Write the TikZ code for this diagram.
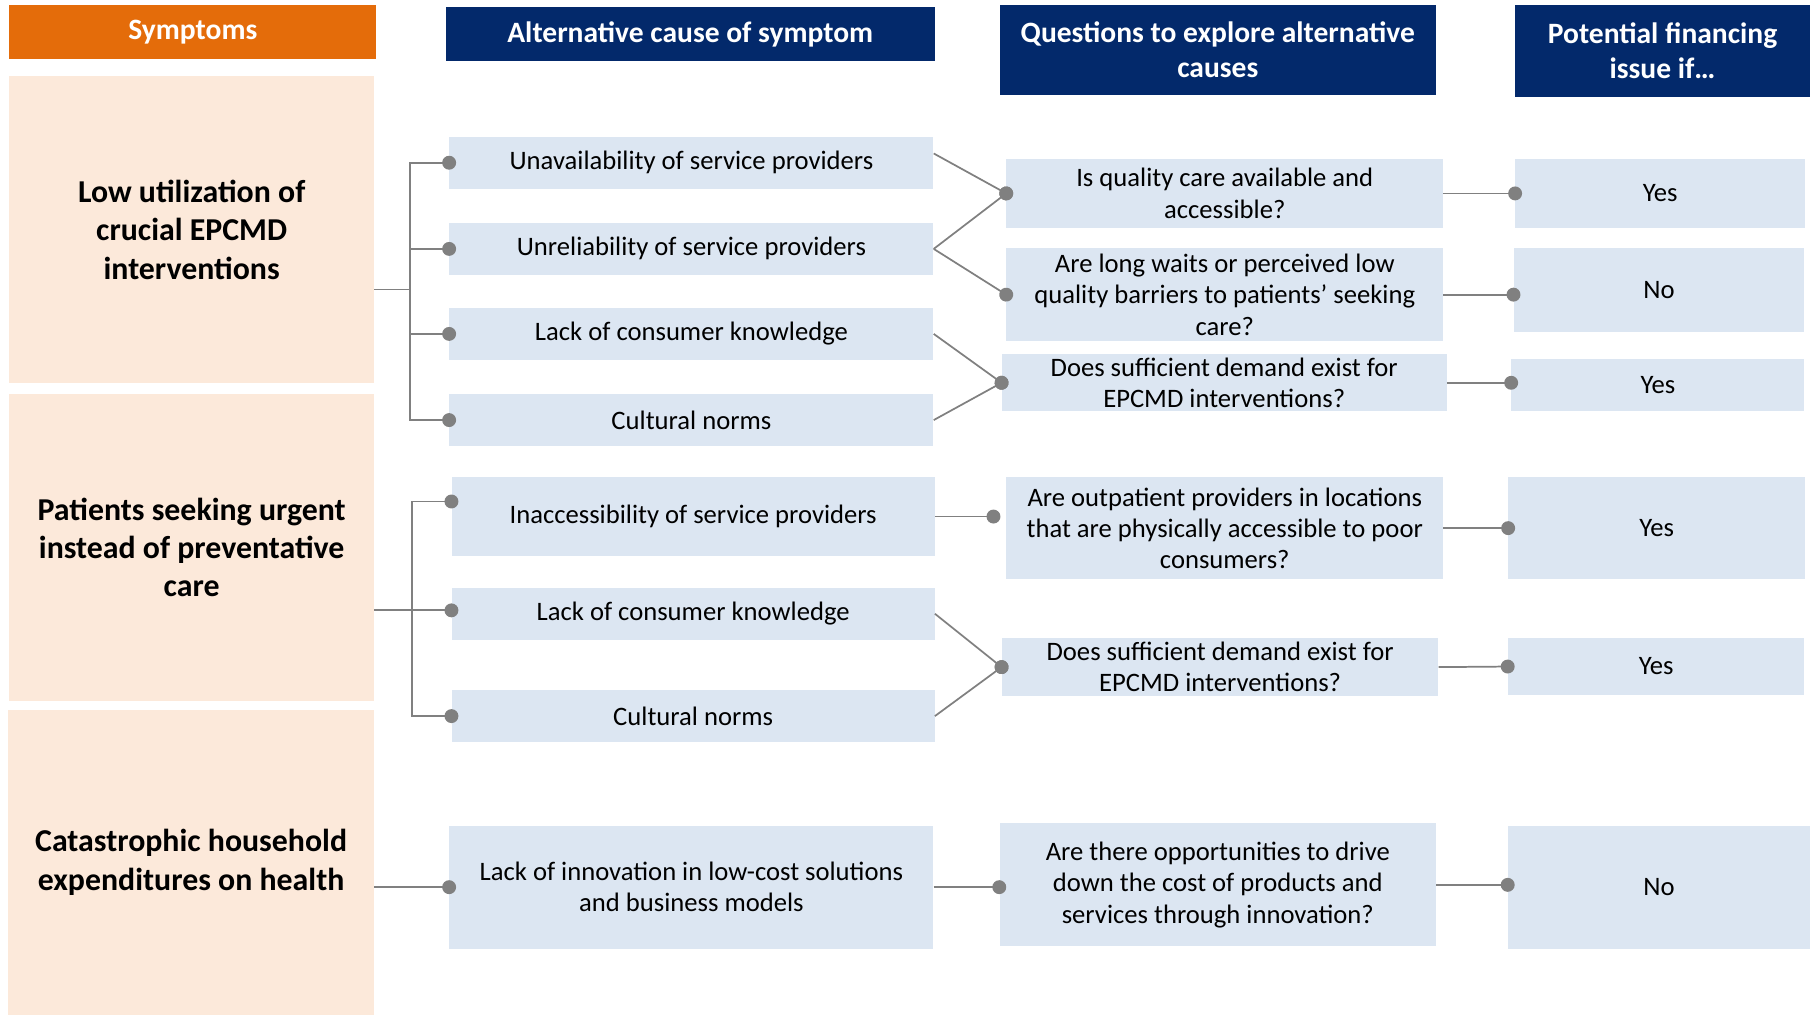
\documentclass[tikz,border=0pt]{standalone}
\usepackage{fontspec}
\setmainfont{Carlito}
\usepackage{tikz}
\usepackage{xcolor}
\usetikzlibrary{positioning, arrows.meta, calc}
\definecolor{EP_Orange}{HTML}{E46C0A}
\definecolor{EP_Navy}{HTML}{03296B}
\definecolor{EP_Peach}{HTML}{FCE9DA}
\definecolor{EP_Ice}{HTML}{DCE6F2}
\definecolor{EP_Gray}{HTML}{808080}

\begin{document}
\begin{tikzpicture}[
  x=1pt, y=-1pt,
  every node/.style={font=\fontsize{23}{27}\selectfont, inner sep=0pt},
  headblock/.style={fill=EP_Navy, text=white, align=center,
    font=\fontsize{25.5}{30}\selectfont\bfseries},
  symblock/.style={fill=EP_Peach, text=black, align=center,
    font=\fontsize{27.5}{33}\selectfont\bfseries},
  cblock/.style={fill=EP_Ice, text=black, align=center},
  wire/.style={line width=1.5pt, EP_Gray},
  link/.style={wire, -{Circle[length=12pt]}, shorten >=-6pt}
]
  \useasboundingbox (0,0) rectangle (1568,876);

  % Column headers
  \node[headblock, fill=EP_Orange, minimum width=317pt, minimum height=47pt] (hsym) at (166.5,27.5) {Symptoms};
  \node[headblock, minimum width=422pt, minimum height=47pt] (hcause) at (596,29.5) {Alternative cause of symptom};
  \node[headblock, minimum width=377pt, minimum height=78pt] (hquest) at (1051.5,43) {Questions to explore alternative\\causes};
  \node[headblock, minimum width=255pt, minimum height=80pt] (hfin) at (1435.5,44) {Potential financing\\issue if…};

  % Symptoms
  \node[symblock, minimum width=315pt, minimum height=265pt] (s1) at (165.5,198.5) {Low utilization of\\crucial EPCMD\\interventions};
  \node[symblock, minimum width=315pt, minimum height=265pt] (s2) at (165.5,472.5) {Patients seeking urgent\\instead of preventative\\care};
  \node[symblock, minimum width=316pt, minimum height=263pt] (s3) at (165,744.5) {Catastrophic household\\expenditures on health};

  % Alternative causes
  \node[cblock, minimum width=418pt, minimum height=45pt] (c1) at (597,140.5) {Unavailability of service providers};
  \node[cblock, minimum width=418pt, minimum height=45pt, below=29pt of c1] (c2) {Unreliability of service providers};
  \node[cblock, minimum width=418pt, minimum height=45pt, below=28pt of c2] (c3) {Lack of consumer knowledge};
  \node[cblock, minimum width=418pt, minimum height=45pt, below=29pt of c3] (c4) {Cultural norms};
  \node[cblock, minimum width=417pt, minimum height=68pt] (c5) at (598.5,446) {Inaccessibility of service providers};
  \node[cblock, minimum width=417pt, minimum height=45pt, below=27pt of c5] (c6) {Lack of consumer knowledge};
  \node[cblock, minimum width=417pt, minimum height=45pt, below=43pt of c6] (c7) {Cultural norms};
  \node[cblock, minimum width=418pt, minimum height=106pt] (c8) at (597,766) {Lack of innovation in low-cost solutions\\and business models};

  % Questions
  \node[cblock, minimum width=377pt, minimum height=60pt] (q1) at (1057.5,167) {Is quality care available and\\accessible?};
  \node[cblock, minimum width=377pt, minimum height=80pt, below=17pt of q1] (q2) {Are long waits or perceived low\\quality barriers to patients’ seeking\\care?};
  \node[cblock, minimum width=384pt, minimum height=49pt] (q3) at (1057,330.5) {Does sufficient demand exist for\\EPCMD interventions?};
  \node[cblock, minimum width=377pt, minimum height=88pt] (q4) at (1057.5,456) {Are outpatient providers in locations\\that are physically accessible to poor\\consumers?};
  \node[cblock, minimum width=377pt, minimum height=50pt] (q5) at (1053.5,576) {Does sufficient demand exist for\\EPCMD interventions?};
  \node[cblock, minimum width=377pt, minimum height=106pt] (q6) at (1051.5,764) {Are there opportunities to drive\\down the cost of products and\\services through innovation?};

  % Financing issue
  \node[cblock, minimum width=250pt, minimum height=60pt, right=62pt of q1] (a1) {Yes};
  \node[cblock, minimum width=251pt, minimum height=73pt] (a2) at (1432.5,250.5) {No};
  \node[cblock, minimum width=253pt, minimum height=45pt] (a3) at (1431.5,332.5) {Yes};
  \node[cblock, minimum width=256pt, minimum height=88pt, right=56pt of q4] (a4) {Yes};
  \node[cblock, minimum width=256pt, minimum height=49pt] (a5) at (1430,575.5) {Yes};
  \node[cblock, minimum width=261pt, minimum height=106pt] (a6) at (1432.5,766) {No};

  % Symptom -> causes
  \coordinate (j1) at (354,250);
  \draw[wire] (j1 -| s1.east) -- (j1);
  \foreach \c in {c1,c2,c3,c4}
    \draw[link] (j1) |- (\c.west);

  \coordinate (j2) at (356,527);
  \draw[link] (s2.east |- j2) -- (j2 -| c6.west);
  \draw[link] (j2) |- ([yshift=13pt]c5.west);
  \draw[link] (j2) |- (c7.west);

  \draw[link] (s3.east |- c8.west) -- (c8.west);

  % Causes -> questions
  \draw[link] ([yshift=8pt]c1.east) -- (q1.west);
  \draw[link] (c2.east) -- (q1.west);
  \draw[link] (c2.east) -- (q2.west);
  \draw[link] (c3.east) -- (q3.west);
  \draw[link] (c4.east) -- (q3.west);
  \draw[link] (c5.east) -- ([xshift=-11pt]c5.east -| q4.west);
  \draw[link] (c6.east) -- (q5.west);
  \draw[link] (c7.east) -- (q5.west);
  \draw[link] (c8.east) -- (c8.east -| q6.west);

  % Questions -> financing issue
  \draw[link] (q1.east) -- (a1.west);
  \draw[link] (q2.east) -- (q2.east -| a2.west);
  \draw[link] (q3.east) -- (q3.east -| a3.west);
  \draw[link] (q4.east) -- (a4.west);
  \draw[link] (q5.east) -- (a5.west);
  \draw[link] (q6.east) -- (q6.east -| a6.west);
\end{tikzpicture}
\end{document}
